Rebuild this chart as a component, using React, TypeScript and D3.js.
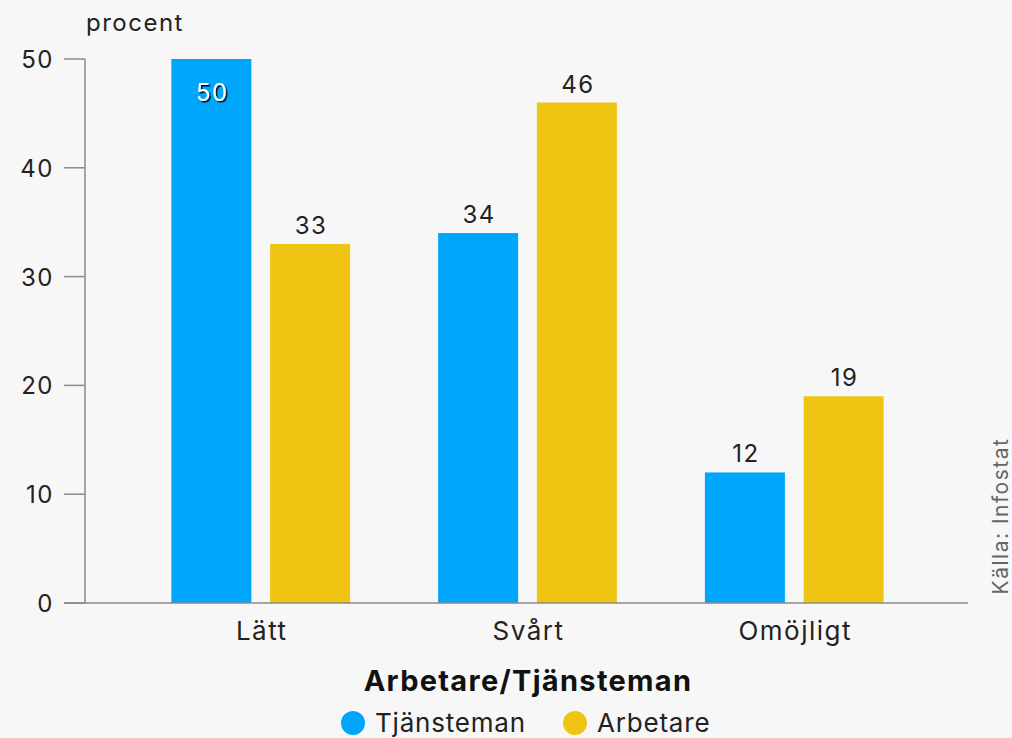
import { scaleBand, scaleLinear } from "d3";

const categories = ["Lätt", "Svårt", "Omöjligt"];
const seriesNames = ["Tjänsteman", "Arbetare"];
const tjanstemanValues = [50, 34, 12];
const arbetareValues = [33, 46, 19];
const yTicks = [0, 10, 20, 30, 40, 50];

const colors: Record<string, string> = {
  Tjänsteman: "#00a6fb",
  Arbetare: "#f0c413",
};

const font = "Inter, 'Noto Sans', sans-serif";

export default function App() {
  const width = 1012;
  const height = 738;
  const axisX = 85;
  const plotRight = 968;
  const plotTop = 59;
  const plotBottom = 603;

  const rows = categories.map((cat, i) => ({
    cat,
    values: [
      { name: seriesNames[0], value: tjanstemanValues[i] },
      { name: seriesNames[1], value: arbetareValues[i] },
    ],
  }));

  const x = scaleBand<string>()
    .domain(categories)
    .range([axisX + 1, plotRight + 1])
    .paddingInner(0.33)
    .paddingOuter(0.32);

  const xSub = scaleBand<string>()
    .domain(seriesNames)
    .range([0, x.bandwidth()])
    .paddingInner(0.19);

  const y = scaleLinear().domain([0, 50]).range([plotBottom, plotTop]);

  return (
    <div style={{ background: "#f7f7f7", width, height }}>
      <style>{`body{margin:0;background:#f7f7f7}`}</style>
      <svg width={width} height={height} fontFamily={font}>
        <defs>
          <filter id="shadow" x="-20%" y="-20%" width="140%" height="140%">
            <feDropShadow dx="1.5" dy="1.5" stdDeviation="0.6" floodColor="#000" floodOpacity="0.9" />
          </filter>
        </defs>
        <rect width={width} height={height} fill="#f7f7f7" />

        <text x={86} y={31} fontSize={24} letterSpacing={1.5} fill="#222">
          procent
        </text>

        {yTicks.map((t) => (
          <g key={t}>
            <line x1={64} x2={axisX} y1={y(t)} y2={y(t)} stroke="#8a8a8a" strokeWidth={1.5} />
            <text x={54} y={y(t) + 9} textAnchor="end" fontSize={24} letterSpacing={1.5} fill="#222">
              {t}
            </text>
          </g>
        ))}

        {rows.map((row) => (
          <g key={row.cat} transform={`translate(${x(row.cat)},0)`}>
            {row.values.map((d) => {
              const bx = xSub(d.name) ?? 0;
              const top = y(d.value);
              // the tallest bar keeps its label inside, like the original
              const inside = top - 30 < plotTop;
              return (
                <g key={d.name}>
                  <rect
                    x={bx}
                    y={top}
                    width={xSub.bandwidth()}
                    height={plotBottom - top}
                    fill={colors[d.name]}
                  />
                  <text
                    x={bx + xSub.bandwidth() / 2 + 1}
                    y={inside ? top + 42 : top - 10}
                    textAnchor="middle"
                    fontSize={24}
                    letterSpacing={1.5}
                    fill={inside ? "#fff" : "#222"}
                    filter={inside ? "url(#shadow)" : undefined}
                  >
                    {d.value}
                  </text>
                </g>
              );
            })}
            <text
              x={x.bandwidth() / 2 + 1}
              y={640}
              textAnchor="middle"
              fontSize={26}
              letterSpacing={1.5}
              fill="#222"
            >
              {row.cat}
            </text>
          </g>
        ))}

        <line x1={axisX} x2={axisX} y1={plotTop} y2={plotBottom} stroke="#8a8a8a" strokeWidth={1.5} />
        <line x1={64} x2={plotRight} y1={plotBottom} y2={plotBottom} stroke="#8a8a8a" strokeWidth={1.5} />

        <text
          transform={`translate(1008, 516) rotate(-90)`}
          textAnchor="middle"
          fontSize={21}
          letterSpacing={1.5}
          fill="#666"
        >
          Källa: Infostat
        </text>

        <text
          x={528}
          y={691}
          textAnchor="middle"
          fontSize={29}
          letterSpacing={1.3}
          fontWeight={700}
          fill="#111"
        >
          Arbetare/Tjänsteman
        </text>

        {seriesNames.map((name, i) => {
          const lx = i === 0 ? 353 : 575;
          return (
            <g key={name}>
              <circle cx={lx} cy={723} r={12} fill={colors[name]} />
              <text x={lx + 22} y={732} fontSize={26} letterSpacing={0.8} fill="#222">
                {name}
              </text>
            </g>
          );
        })}
      </svg>
    </div>
  );
}
